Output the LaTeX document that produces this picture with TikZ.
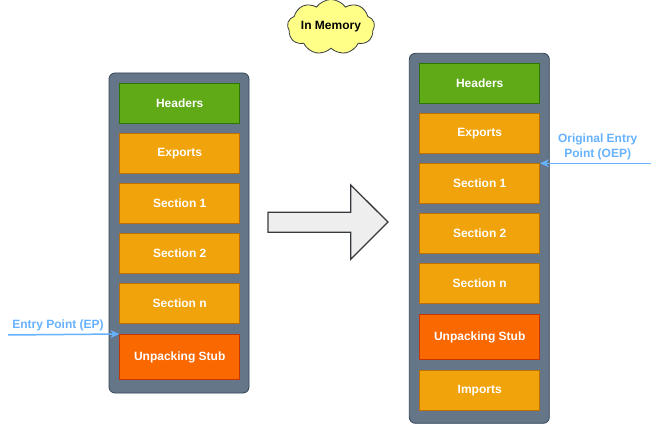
\documentclass[tikz,border=0pt]{standalone}
\usepackage{fontspec}
\setmainfont{Liberation Sans}
\usetikzlibrary{shapes.symbols,arrows.meta}
\definecolor{contfill}{HTML}{647687}
\definecolor{contdraw}{HTML}{314354}
\definecolor{hdrfill}{HTML}{60A917}
\definecolor{hdrdraw}{HTML}{2D7600}
\definecolor{orfill}{HTML}{F0A30A}
\definecolor{ordraw}{HTML}{BD7000}
\definecolor{stubfill}{HTML}{FA6800}
\definecolor{stubdraw}{HTML}{C73500}
\definecolor{epblue}{HTML}{66B2FF}
\definecolor{cloudfill}{HTML}{FFFF88}
\definecolor{darkline}{HTML}{36393D}
\definecolor{arrfill}{HTML}{EEEEEE}
\tikzset{
  container/.style={draw=contdraw, fill=contfill, rounded corners=6pt, line width=0.8pt},
  seg/.style={anchor=north west, minimum width=120pt, inner sep=0pt, text=white,
    font=\fontsize{12}{14}\selectfont\bfseries, line width=0.8pt},
  hdr/.style={seg, draw=hdrdraw, fill=hdrfill, minimum height=40pt},
  orb/.style={seg, draw=ordraw, fill=orfill, minimum height=40pt},
  stub/.style={seg, draw=stubdraw, fill=stubfill, minimum height=45.3pt},
  eplabel/.style={text=epblue, font=\fontsize{12}{15}\selectfont\bfseries, align=center, inner sep=0pt},
  eparrow/.style={draw=epblue, line width=1.5pt, -{Stealth[length=9pt,width=8pt,inset=3pt]}},
}
\begin{document}
\begin{tikzpicture}[x=1pt,y=-1pt]
\useasboundingbox (0,0) rectangle (659,425);
% left container
\draw[container] (109,73) rectangle (249,393);
\node[hdr] (lh) at (119.3,83.3) {Headers};
\node[orb] (le) at (119.3,133.3) {Exports};
\node[orb] (l1) at (119.3,183.3) {Section 1};
\node[orb] (l2) at (119.3,233.3) {Section 2};
\node[orb] (ln) at (119.3,283.3) {Section n};
\node[stub] (ls) at (119.3,334) {Unpacking Stub};
% right container
\draw[container] (409.3,53.3) rectangle (549.3,423.3);
\node[hdr] (rh) at (419.3,63.3) {Headers};
\node[orb] (re) at (419.3,113.3) {Exports};
\node[orb] (r1) at (419.3,163.3) {Section 1};
\node[orb] (r2) at (419.3,213.3) {Section 2};
\node[orb] (rn) at (419.3,263.3) {Section n};
\node[stub] (rs) at (419.3,314) {Unpacking Stub};
\node[orb] (ri) at (419.3,370) {Imports};
% entry points
\coordinate (epstart) at (8,335);
\node[eplabel] (ep) at (58,325) {Entry Point (EP)};
\draw[eparrow] (epstart) -- (ls.north west);
\coordinate (oepstart) at (651,163.3);
\node[eplabel] (oep) at (597.7,146.5) {Original Entry\\Point (OEP)};
\draw[eparrow] (oepstart) -- (r1.north east);
% cloud
\node[cloud, cloud puffs=9, cloud puff arc=110, aspect=2, draw=darkline, fill=cloudfill,
  minimum width=87pt, minimum height=46pt, inner sep=0pt, line width=0.8pt,
  font=\fontsize{12}{14}\selectfont\bfseries] (mem) at (331,27) {In Memory};
% block arrow
\draw[draw=darkline, fill=arrfill, line width=1.3pt, line join=miter]
  (268,212.3) -- (350.7,212.3) -- (350.7,185) -- (388,222) -- (350.7,259.3)
  -- (350.7,232.3) -- (268,232.3) -- cycle;
\end{tikzpicture}
\end{document}
